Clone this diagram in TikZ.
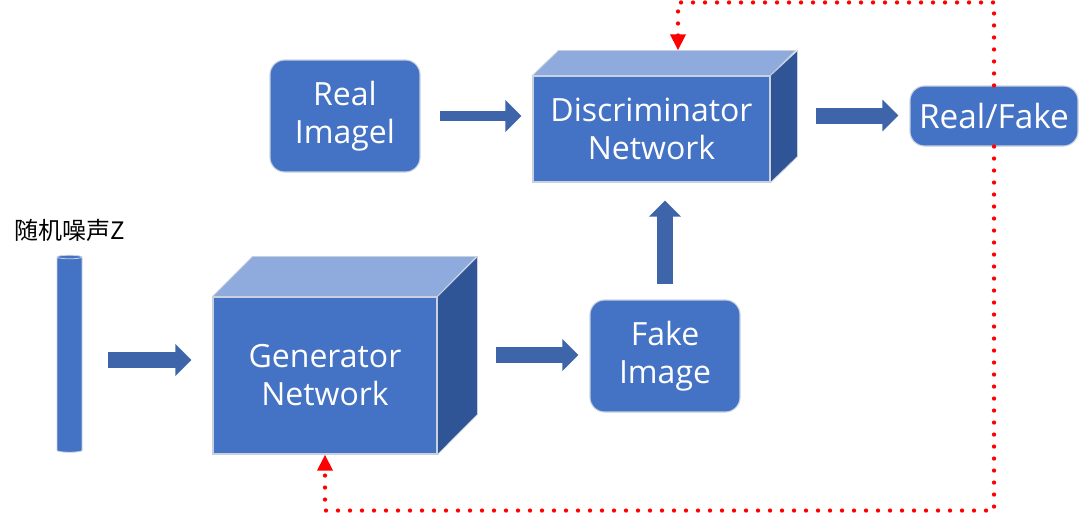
\documentclass[tikz,border=0pt]{standalone}
\usepackage{fontspec}
\setmainfont{Open Sans}
\newfontfamily\cjk{Noto Sans CJK SC}
\usetikzlibrary{shapes,arrows.meta,calc}
\definecolor{frontblue}{HTML}{4472C4}
\definecolor{topblue}{HTML}{8FAADC}
\definecolor{sideblue}{HTML}{2F5597}
\definecolor{arrowblue}{HTML}{3E64AA}
\definecolor{edgegray}{HTML}{C9D1DE}
\definecolor{loopred}{HTML}{FF0000}

\begin{document}
\begin{tikzpicture} [x=0.75pt, y=-0.75pt, face/.style={rectangle, draw=edgegray, line width=0.8pt, fill=frontblue, text=white, align=center, inner sep=0pt, font=\fontsize{24}{28.5}\selectfont}, roundbox/.style={face, rounded corners=11pt, minimum width=112.5pt, minimum height=84pt}, topface/.style={fill=topblue, draw=edgegray, line width=0.6pt}, sideface/.style={fill=sideblue, draw=edgegray, line width=0.6pt}, blockarrow/.style={draw=arrowblue, line width=12pt, -{Triangle[length=12pt, width=23pt]}}, feedback/.style={draw=loopred, line width=3.2pt, line cap=round, dash pattern=on 0pt off 9pt, -{Triangle[length=12pt, width=11pt]}}]
{
	\useasboundingbox (0,0) rectangle (1087,514);

	\node [face, minimum width=168pt, minimum height=117.75pt] (gen_net) at (325,375.5) {Generator\\Network};
	\node [face, minimum width=177.75pt, minimum height=79.5pt] (disc_net) at (651.5,129) {Discriminator\\Network};
	\node [roundbox] (real_img) at (345,116) {Real\\Imagel};
	\node [roundbox] (fake_img) at (665,356) {Fake\\Image};
	\node [roundbox, minimum width=126pt, minimum height=45pt, font=\fontsize{25}{30}\selectfont] (result) at (994,116) {Real/Fake};
	\node [cylinder, shape border rotate=90, aspect=0.4, draw=edgegray, line width=0.6pt, fill=frontblue, minimum width=18.75pt, minimum height=147.75pt] (noise) at (69.5,355.5) {};
	\node [above of=noise, node distance=94pt, font=\cjk\fontsize{18}{21}\selectfont] (noise_label) {随机噪声Z};

	% cube faces
	\draw [topface] (gen_net.north west) -- ++(40,-40) -- ++(224,0) -- (gen_net.north east) -- cycle;
	\draw [sideface] (gen_net.north east) -- ++(40,-40) -- ++(0,158) -- (gen_net.south east) -- cycle;
	\draw [topface] (disc_net.north west) -- ++(26,-25) -- ++(237,0) -- (disc_net.north east) -- cycle;
	\draw [sideface] (disc_net.north east) -- ++(27,-25) -- ++(0,106) -- (disc_net.south east) -- cycle;

	% draw edges
	\draw [blockarrow] ($(noise.east)+(26,4.5)$) -- ($(gen_net.west)+(-21,-15.5)$);
	\draw [blockarrow] ($(gen_net.east)+(58,-20.5)$) -- ($(fake_img.west)+(-11,-1)$);
	\draw [blockarrow, line width=7.5pt] ($(real_img.east)+(19,0)$) -- ($(disc_net.west)+(-11,-13)$);
	\draw [blockarrow] ($(fake_img.north)+(0,-15)$) -- ($(disc_net.south)+(13.5,18)$);
	\draw [blockarrow] ($(disc_net.east)+(45,-13.5)$) -- ($(result.west)+(-11,-0.5)$);

	% feedback loops
	\draw [feedback] (result.north) -- ++(0,-83) -| ($(disc_net.north)+(26.5,-25)$);
	\draw [feedback] (result.south) -- ++(0,364) -| (gen_net.south);
}
\end{tikzpicture}
\end{document}
